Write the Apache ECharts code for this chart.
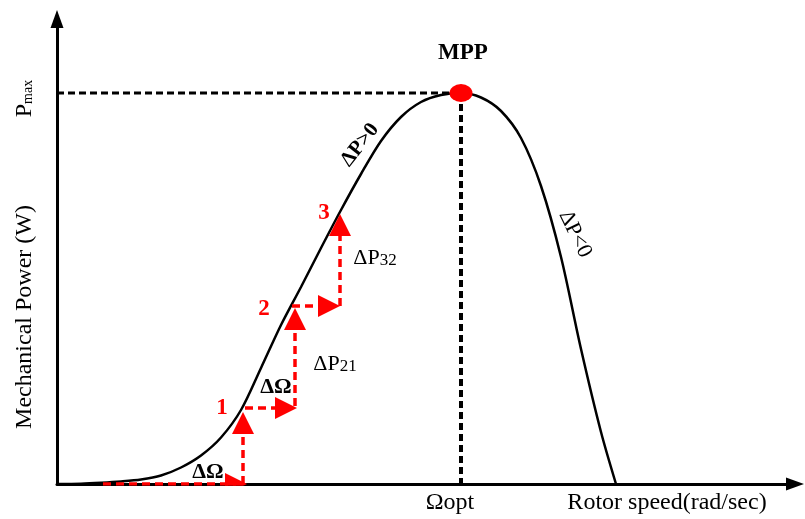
<!DOCTYPE html>
<html><head><meta charset="utf-8">
<script src="https://cdn.jsdelivr.net/npm/echarts@6/dist/echarts.min.js"></script>
<style>html,body{margin:0;padding:0;background:#fff}#c{width:805px;height:519px}</style>
</head><body><div id="c"></div>
<script>
// Power curve (arbitrary units)
const rotorSpeed = [0, 2.4, 4.4, 6.4, 8.4, 10.4, 12.4, 14.4, 16.4, 18.4, 20.4, 22.4, 24.4, 26.4, 28.4, 30.4, 32.4, 34.4, 36.4, 38.4, 40.4, 42.4, 44.4, 46.4, 48.4, 50.4, 52.4, 54.4, 55.9];
const power      = [0, 0.03, 0.12, 0.25, 0.45, 0.85, 1.65, 2.85, 4.65, 7.4, 11.6, 15.9, 19.7, 23.6, 27.4, 31.0, 34.3, 36.7, 38.2, 38.9, 39.1, 38.65, 37.3, 34.6, 29.8, 22.7, 13.5, 5.2, 0];
// Maximum power point
const omegaOpt = 40.4;
const pMax = 39.1;
// Perturb & observe step arrows (start -> end)
const arrowFromSpeed = [4.6, 18.6, 18.8, 23.8, 23.5, 28.3];
const arrowFromPower = [0, 0, 7.6, 7.8, 17.8, 17.8];
const arrowToSpeed   = [19.0, 18.6, 24.0, 23.8, 28.3, 28.3];
const arrowToPower   = [0, 7.2, 7.6, 17.6, 17.8, 27.0];
// Annotations
const noteText  = ['1', '2', '3', 'ΔΩ', 'ΔΩ', 'ΔP21', 'ΔP32', 'ΔP>0', 'ΔP<0', 'MPP'];
const noteSpeed = [16.5, 20.7, 26.7, 15.1, 21.9, 27.8, 31.8, 30.3, 51.8, 40.6];
const notePower = [7.6, 17.5, 27.1, 1.2, 9.7, 12.0, 22.6, 33.9, 25.0, 43.1];
// Axis labels
const xTickValues = [40.4, 61.0];
const xTickLabels = ['Ωopt', 'Rotor speed(rad/sec)'];
const yTickValues = [39.1, 16.7];
const yTickLabels = ['Pmax', 'Mechanical Power (W)'];

const FONT = '"Liberation Serif", "DejaVu Serif", serif';
const ARROW_LEN = 22; // px
const PX_PER_UNIT = 10;
const chart = echarts.init(document.getElementById('c'));

const curve = rotorSpeed.map((x, i) => [x, power[i]]);
const segs = arrowFromSpeed.map((x0, i) => {
  const y0 = arrowFromPower[i], x1 = arrowToSpeed[i], y1 = arrowToPower[i];
  const dx = x1 - x0, dy = y1 - y0, len = Math.hypot(dx, dy);
  const back = ARROW_LEN / 2 / PX_PER_UNIT; // arrow symbol is centred on the end point
  return { coords: [[x0, y0], [x1 - dx / len * back, y1 - dy / len * back]] };
});

function noteStyle(t) {
  if (/^[123]$/.test(t)) return { color: '#ff0000', fontSize: 23, fontWeight: 'bold' };
  if (t === 'ΔΩ') return { color: '#000', fontSize: 22, fontWeight: 'bold' };
  if (t === 'MPP') return { color: '#000', fontSize: 23, fontWeight: 'bold' };
  if (t === 'ΔP>0') return { color: '#000', fontSize: 21, fontWeight: 'bold', rotate: 52 };
  if (t === 'ΔP<0') return { color: '#000', fontSize: 22, rotate: -64 };
  return { color: '#000', fontSize: 22 };
}
const notes = noteText.map((t, i) => {
  const s = noteStyle(t);
  let formatter = t;
  let rich;
  if (/^ΔP\d\d$/.test(t)) {
    formatter = '{a|ΔP}{b|' + t.slice(2) + '}';
    rich = { a: { fontSize: 22, fontFamily: FONT, color: '#000' }, b: { fontSize: 17, fontFamily: FONT, color: '#000', padding: [5, 0, 0, 0] } };
  }
  return {
    value: [noteSpeed[i], notePower[i]],
    label: Object.assign({ show: true, position: 'inside', formatter: formatter, fontFamily: FONT, rich: rich, opacity: 1 }, s)
  };
});

chart.setOption({
  animation: false,
  grid: { left: 57, right: 10, top: 19, bottom: 35 },
  xAxis: {
    type: 'value', min: 0, max: 73.8,
    splitLine: { show: false },
    axisTick: { show: false },
    axisLine: { show: true, symbol: ['none', 'triangle'], symbolSize: [13, 18], lineStyle: { color: '#000', width: 3 } },
    axisLabel: {
      customValues: xTickValues, margin: 7, color: '#000', fontFamily: FONT, fontSize: 24,
      formatter: v => {
        const t = xTickLabels[xTickValues.indexOf(v)];
        return t === 'Ωopt' ? '{o|' + t + '}' : '{t|' + t + '}';
      },
      rich: {
        o: { fontFamily: FONT, fontSize: 24, color: '#000', padding: [0, 22, 0, 0] },
        t: { fontFamily: FONT, fontSize: 24, color: '#000' }
      }
    }
  },
  yAxis: {
    type: 'value', min: 0, max: 46.5,
    splitLine: { show: false },
    axisTick: { show: false },
    axisLine: { show: true, symbol: ['none', 'triangle'], symbolSize: [13, 18], lineStyle: { color: '#000', width: 3 } },
    axisLabel: {
      customValues: yTickValues, margin: 20, rotate: 90, color: '#000', fontFamily: FONT, fontSize: 24,
      formatter: v => {
        const t = yTickLabels[yTickValues.indexOf(v)];
        return t === 'Pmax' ? '{p|P}{s|max}' : '{m|' + t + '}';
      },
      rich: {
        p: { fontFamily: FONT, fontSize: 24, color: '#000' },
        s: { fontFamily: FONT, fontSize: 14, color: '#000', padding: [7, 11, 0, 0] },
        m: { fontFamily: FONT, fontSize: 24, color: '#000' }
      }
    }
  },
  series: [
    { type: 'line', data: [[0, pMax], [omegaOpt, pMax]], symbol: 'none', lineStyle: { color: '#000', width: 3, type: [7, 4] }, z: 3 },
    { type: 'line', data: [[omegaOpt, pMax], [omegaOpt, 0]], symbol: 'none', lineStyle: { color: '#000', width: 4, type: [7, 4] }, z: 3 },
    { type: 'line', data: curve, smooth: 0.3, symbol: 'none', lineStyle: { color: '#000', width: 2.5 }, z: 4 },
    { type: 'lines', coordinateSystem: 'cartesian2d', data: segs, symbol: ['none', 'triangle'], symbolSize: [14, ARROW_LEN],
      itemStyle: { color: '#ff0000' },
      lineStyle: { color: '#ff0000', width: 3.5, type: [8, 5], opacity: 1, curveness: 0 }, z: 6 },
    { type: 'scatter', data: [[omegaOpt, pMax]], symbol: 'circle', symbolSize: [23, 18], itemStyle: { color: '#ff0000', opacity: 1 }, z: 7 },
    { type: 'scatter', data: notes, symbolSize: 1, itemStyle: { color: 'rgba(0,0,0,0)', opacity: 1 }, clip: false, silent: true, z: 8 }
  ]
});
</script></body></html>
